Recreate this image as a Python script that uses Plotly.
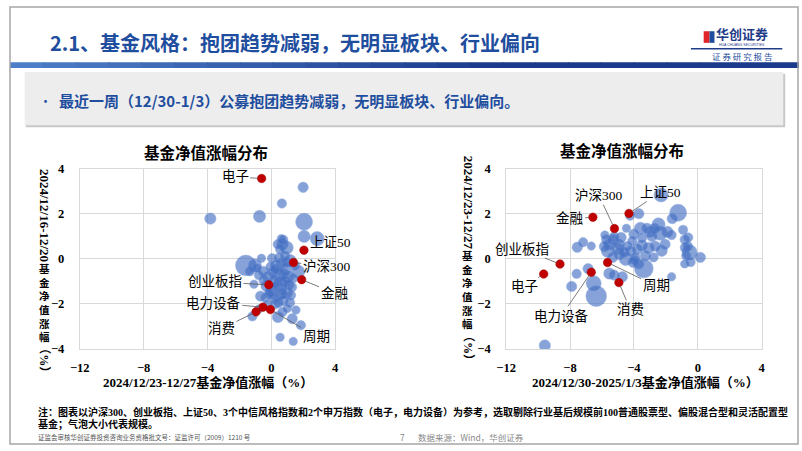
import plotly.graph_objects as go

W, H = 802, 451

# ---------------- data ----------------
idx_names = ["电子", "上证50", "沪深300", "金融", "创业板指", "电力设备", "周期", "消费"]
# left chart: x = 2024/12/23-12/27, y = 2024/12/16-12/20 (%)
idx_x1 = [-0.61, 2.04, 1.39, 1.90, -0.16, -0.53, -0.06, -0.96]
idx_y1 = [3.57, 0.39, -0.16, -0.92, -1.15, -2.14, -2.25, -2.35]
# right chart: x = 2024/12/30-2025/1/3, y = 2024/12/23-12/27 (%)
idx_x2 = [-9.65, -4.31, -5.22, -6.57, -8.63, -6.67, -5.65, -4.94]
idx_y2 = [-0.67, 2.02, 1.35, 1.85, -0.23, -0.59, -0.16, -1.05]

# funds, left chart
fund_x1 = [1.99, 0.66, -3.82, -0.74, 2.05, 2.05, 2.87, 0.62, 0.70, 0.96, 0.55, 0.86,
           -1.60, -1.03, -0.62, 0.04, 1.17, 1.48, 1.68, 1.37, -1.09, -0.78, -0.68, -0.37,
           0.25, 0.35, 0.96, 1.23, 1.17, 1.54, 0.41, 1.31, -1.19, 1.85, 0.55, 1.37, -0.78,
           0.30, 0.60, 0.90, 0.10, 0.45, 0.75, 1.05, -0.20, -0.50, 0.20, 0.55, 0.85, 1.10,
           -0.30, 0.00, 0.65, 0.15, 0.75, -0.05, 0.50, 1.30, -0.45, 0.25, 0.95, -0.15,
           0.45, 1.00, -0.25, 0.70, -1.35, -0.90, 0.40, 0.75]
fund_y1 = [3.18, 2.46, 1.79, 1.89, 1.65, 1.00, 0.90, 0.90, 0.65, 0.50, 0.43, 0.14,
           -0.29, -0.29, 0.03, 0.03, -0.07, -0.29, -0.57, -0.86, -1.12, -0.72, -1.65, -1.72,
           -2.01, -1.43, -1.51, -1.61, -1.94, -2.27, -2.58, -2.65, -2.55, -2.94, -3.48, -3.66, -2.22,
           -0.30, -0.20, -0.45, -0.60, -0.70, -0.65, -0.80, -0.80, -0.55, -1.00, -1.10, -1.00, -1.15,
           -1.20, -1.40, -1.55, -1.75, -1.85, -0.35, 0.05, -1.25, -0.95, -0.45, -0.15, -1.55,
           -1.95, -2.20, -2.05, -2.35, -0.55, -0.40, 0.65, 0.85]
fund_s1 = [75, 62, 90, 105, 202, 105, 140, 50, 90, 122, 62, 62,
           301, 122, 50, 62, 105, 62, 122, 62, 50, 62, 75, 62,
           62, 249, 90, 62, 62, 50, 90, 75, 62, 62, 50, 50, 50,
           90, 75, 105, 75, 122, 90, 105, 90, 75, 105, 140, 90, 75,
           90, 105, 90, 75, 75, 62, 75, 62, 75, 62, 75, 62,
           62, 50, 62, 62, 62, 50, 62, 62]

# funds, right chart
fund_x2 = [-9.58, -7.90, -7.59, -6.87, -6.52, -6.36, -7.55, -7.18, -6.67, -5.74, -5.23, -5.54,
           -5.64, -5.33, -4.92, -4.92, -4.41, -4.51, -4.20, -4.47, -3.69, -3.59, -3.18, -2.46,
           -2.36, -1.64, -2.87, -3.49, -4.10, -2.30, -1.23, -1.60, -0.92, -0.82, -0.62, -0.51,
           -0.72, 0.16, -0.82, -0.45, -1.64, -3.38, -3.69, -3.79, -3.08, -2.67, -2.26, -2.05,
           -3.28, -2.77, -3.90, -5.54, -5.23, -4.72, -4.24, -5.82, -3.00, -4.80, -5.00, -4.00,
           -2.70, -1.90, -3.50, -5.85, -5.30, -4.60, -3.95, -0.78, -0.60, -4.05]
fund_y2 = [-3.84, -1.22, -0.66, -0.43, -1.08, -1.65, 0.52, 0.74, 0.57, 0.86, 1.00, 0.65,
           0.36, 0.07, 0.22, 0.65, 0.57, 0.00, 0.36, 1.36, 2.01, 1.36, 1.36, 1.53,
           1.14, 1.06, 1.00, 0.93, 0.79, 2.84, 2.05, 1.79, 1.29, 0.86, 0.57, 0.29,
           0.14, 0.07, -0.22, -0.14, -0.79, -0.43, -0.22, 0.43, 0.49, 0.57, 0.36, 0.65,
           0.14, 0.07, 0.07, -0.65, -0.72, -0.79, 1.92, 1.06, 1.20, 0.95, 0.45, 1.10,
           1.35, 1.20, 0.60, 0.55, 0.85, 0.30, -0.05, 0.50, 0.95, -0.15]
fund_s2 = [90, 75, 62, 75, 159, 301, 75, 62, 50, 62, 62, 90,
           122, 75, 90, 75, 62, 122, 75, 50, 75, 105, 75, 122,
           140, 62, 75, 62, 62, 140, 202, 75, 62, 62, 62, 159,
           62, 75, 50, 62, 50, 249, 75, 75, 90, 75, 90, 75,
           75, 62, 62, 90, 75, 75, 62, 50, 90, 75, 105, 75,
           75, 90, 90, 75, 90, 75, 62, 75, 62, 75]

x_ticks = [-12, -8, -4, 0, 4]
y_ticks = [-4, -2, 0, 2, 4]
chart_title = "基金净值涨幅分布"
x_title1 = "2024/12/23-12/27基金净值涨幅（%）"
x_title2 = "2024/12/30-2025/1/3基金净值涨幅（%）"
y_num1, y_num2 = "2024/12/16-12/20", "2024/12/23-12/27"
y_cjk = "基金净值涨幅"

# ---------------- helpers ----------------
def px(x):
    return x / W

def py(y):
    return 1 - y / H

SERIF = "Liberation Serif, Noto Sans CJK SC"
CJK = "Noto Sans CJK SC"
BLUE_T = "#1F4E9E"

annotations = []
shapes = []

def txt(text, x, y, size, color="#000", family=CJK, weight="normal", xanchor="center",
        yanchor="middle", angle=0):
    annotations.append(dict(text=text, x=px(x), y=py(y), xref="paper", yref="paper",
                            showarrow=False, xanchor=xanchor, yanchor=yanchor, textangle=angle,
                            align="left" if xanchor == "left" else "center", borderpad=0,
                            font=dict(size=size, color=color, family=family, weight=weight)))

def rect(x0, y0, x1, y1, fill, line=None, lw=0):
    shapes.append(dict(type="rect", xref="paper", yref="paper", x0=px(x0), x1=px(x1),
                       y0=py(y1), y1=py(y0), fillcolor=fill,
                       line=dict(color=line or fill, width=lw), layer="below"))

# ---------------- figure ----------------
fig = go.Figure()

bubble = dict(color="rgba(66,110,194,0.9)", line=dict(color="rgba(100,140,212,1)", width=0.5),
              sizemode="area", sizeref=1.4)
red = dict(color="#C00000", size=8.5, line=dict(color="#A00000", width=0.5))

fig.add_trace(go.Scatter(x=fund_x1, y=fund_y1, mode="markers", marker=dict(size=fund_s1, **bubble),
                         xaxis="x", yaxis="y", hoverinfo="skip"))
fig.add_trace(go.Scatter(x=idx_x1, y=idx_y1, mode="markers", marker=red, text=idx_names,
                         xaxis="x", yaxis="y"))
fig.add_trace(go.Scatter(x=fund_x2, y=fund_y2, mode="markers", marker=dict(size=fund_s2, **bubble),
                         xaxis="x2", yaxis="y2", hoverinfo="skip"))
fig.add_trace(go.Scatter(x=idx_x2, y=idx_y2, mode="markers", marker=red, text=idx_names,
                         xaxis="x2", yaxis="y2"))

# data-label placement (label centre in data units), and whether a leader line is drawn
lab1 = {"电子": (-2.27, 3.64, True), "上证50": (3.68, 0.73, False), "沪深300": (3.47, -0.33, True),
        "金融": (3.96, -1.52, True), "创业板指": (-3.53, -1.02, True), "电力设备": (-3.64, -1.95, True),
        "周期": (2.80, -3.43, True), "消费": (-3.13, -3.10, True)}
lab2 = {"电子": (-10.88, -1.23, True), "上证50": (-2.35, 2.95, True), "沪深300": (-6.18, 2.81, True),
        "金融": (-8.02, 1.78, True), "创业板指": (-10.98, 0.44, True), "电力设备": (-8.53, -2.52, True),
        "周期": (-2.61, -1.20, True), "消费": (-4.24, -2.24, True)}

for xs, ys, labs, xr, yr in [(idx_x1, idx_y1, lab1, "x", "y"), (idx_x2, idx_y2, lab2, "x2", "y2")]:
    for n, xv, yv in zip(idx_names, xs, ys):
        lx, ly, arrow = labs[n]
        f = dict(size=13.5, color="#000", family=SERIF)
        if arrow:
            annotations.append(dict(text=n, x=xv, y=yv, xref=xr, yref=yr, ax=lx, ay=ly,
                                    axref=xr, ayref=yr, showarrow=True, arrowhead=0,
                                    arrowwidth=0.8, arrowcolor="#595959", standoff=4, font=f))
        else:
            annotations.append(dict(text=n, x=lx, y=ly, xref=xr, yref=yr, showarrow=False, font=f))

GRID = "#D9D9D9"
tickfont = dict(family="Liberation Serif", size=12.5, color="#000", weight="bold")
def xaxis(dom, anchor):
    return dict(domain=dom, anchor=anchor, range=[-12, 4], tickvals=x_ticks, showgrid=True,
                gridcolor=GRID, gridwidth=1, zeroline=True, zerolinecolor=GRID, zerolinewidth=1,
                showline=True, mirror=True, linecolor=GRID, linewidth=1, ticks="",
                tickfont=tickfont, ticklabelstandoff=7, fixedrange=True)
def yaxis(dom, anchor):
    return dict(domain=dom, anchor=anchor, range=[-4, 4], tickvals=y_ticks, showgrid=True,
                gridcolor=GRID, gridwidth=1, zeroline=True, zerolinecolor=GRID, zerolinewidth=1,
                showline=True, mirror=True, linecolor=GRID, linewidth=1, ticks="",
                tickfont=tickfont, ticklabelstandoff=12, fixedrange=True)

ydom = [py(353), py(167)]
# chart titles
txt(chart_title, 199, 150, 15.5, weight="bold")
txt(chart_title, 623, 148, 15.5, weight="bold")
# x titles
txt(x_title1, 202, 388, 13, family=SERIF, weight="bold")
txt(x_title2, 647, 388, 13, family=SERIF, weight="bold")
# vertical y titles (digits rotated, CJK characters stacked upright)
def vtitle(xc, ystart, num):
    nlen = 94
    txt(num, xc, ystart + nlen / 2, 13, family=SERIF, weight="bold", angle=90)
    y0 = ystart + nlen + 2
    stack = 6 * 10.5 * 1.3
    txt("<br>".join(y_cjk), xc, y0 + stack / 2, 10.5, weight="bold")
    txt("（%）", xc, y0 + stack + 19, 12, family=SERIF, weight="bold", angle=90)
vtitle(35, 168, y_num1)
vtitle(466, 155, y_num2)

# ---------------- slide decoration ----------------
# blue header bar (gradient)
c0, c1 = (78, 126, 200), (27, 58, 140)
nseg = 24
for i in range(nseg):
    t = i / (nseg - 1)
    c = tuple(int(c0[k] + (c1[k] - c0[k]) * min(1, t * 1.6)) for k in range(3))
    rect(W * i / nseg, 57, W * (i + 1) / nseg + 1, 63, "rgb(%d,%d,%d)" % c)
# grey summary box with shadow
rect(16, 69, 789, 124, "#C8C8C8")
rect(15, 67, 787, 122, "#EDEDED")
# logo
rect(706, 25, 712, 37, "#E0262B")
rect(712, 25, 717, 37, "#1F4E9E")
shapes.append(dict(type="line", xref="paper", yref="paper", x0=px(693), x1=px(786),
                   y0=py(43), y1=py(43), line=dict(color="#1F3C88", width=1.5)))
txt("华创证券", 745, 27, 13, color="#1F3C88", weight="bold")
txt("HUA CHUANG SECURITIES", 745, 39.5, 3.5, color="#1F3C88", family="Liberation Sans")
txt("证 券 研 究 报 告", 746, 50.5, 8.5, color="#1F4E9E")
# slide border
shapes.append(dict(type="rect", xref="paper", yref="paper", x0=0, x1=1, y0=0, y1=1,
                   line=dict(color="#A6A6A6", width=1.5), fillcolor="rgba(0,0,0,0)"))

txt("2.1、基金风格：抱团趋势减弱，无明显板块、行业偏向", 40, 37, 20, color=BLUE_T, weight="bold",
    xanchor="left")
txt("•", 29, 97, 13, color=BLUE_T, xanchor="left")
txt("最近一周（12/30-1/3）公募抱团趋势减弱，无明显板块、行业偏向。", 49, 97, 15, color=BLUE_T,
    weight="bold", xanchor="left")

txt("注：图表以沪深300、创业板指、上证50、3个中信风格指数和2个申万指数（电子，电力设备）为参考，选取剔除行业基后规模前100普通股票型、偏股混合型和灵活配置型",
    27, 418, 10, family=SERIF, weight="bold", xanchor="left")
txt("基金；气泡大小代表规模。", 27, 431, 10, family=SERIF, weight="bold", xanchor="left")
txt("证监会审核华创证券投资咨询业务资格批文号：证监许可（2009）1210 号", 27, 443.5, 6.5,
    color="#555", xanchor="left")
txt("7", 399, 443.5, 8.5, color="#888")
txt("数据来源：Wind，华创证券", 414, 443.5, 8.5, color="#888", xanchor="left")

fig.update_layout(
    width=W, height=H, margin=dict(l=0, r=0, t=0, b=0),
    paper_bgcolor="white", plot_bgcolor="white", showlegend=False,
    xaxis=xaxis([px(71), px(331)], "y"), yaxis=yaxis(ydom, "x"),
    xaxis2=xaxis([px(505), px(765)], "y2"), yaxis2=yaxis(ydom, "x2"),
    annotations=annotations, shapes=shapes,
)

fig.write_html("out.html", config={"displayModeBar": False},
               post_script="document.body.style.margin='0';document.body.style.overflow='hidden';")
